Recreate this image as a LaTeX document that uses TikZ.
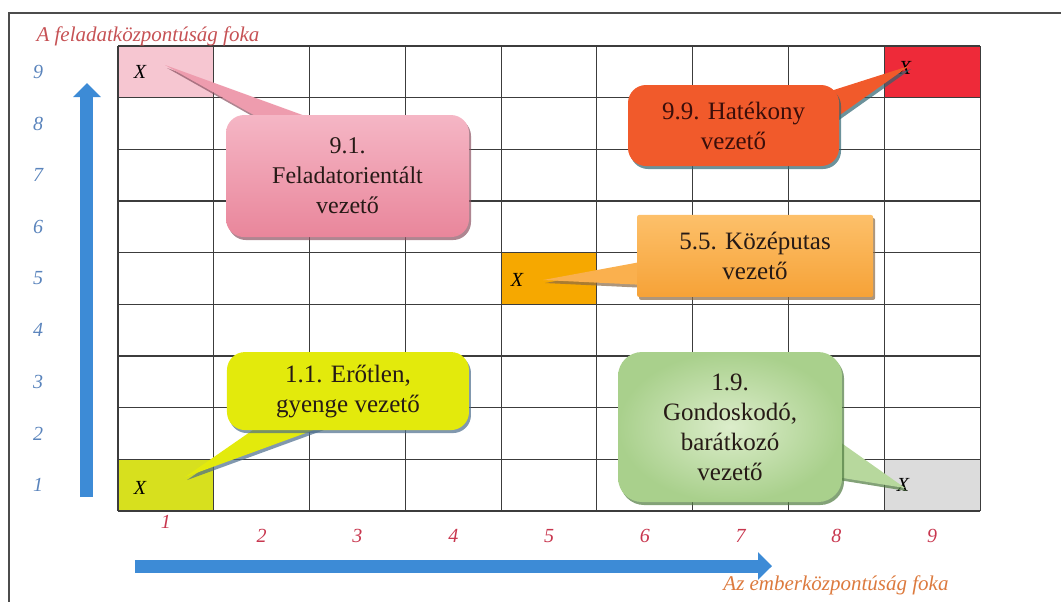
\documentclass[tikz,border=0pt]{standalone}
\usepackage{fontspec}
\setmainfont{Liberation Serif}
\usetikzlibrary{calc,arrows.meta,shadows}
\pgfdeclarelayer{front}
\pgfsetlayers{main,front}

\definecolor{gridgray}{HTML}{3C3C3C}
\definecolor{axisblue}{HTML}{3D8BD6}
\definecolor{numblue}{HTML}{5A84BC}
\definecolor{numred}{HTML}{C8374F}
\definecolor{titlered}{HTML}{C65255}
\definecolor{titleorange}{HTML}{DC7A3E}
\definecolor{cellpink}{HTML}{F6C6D1}
\definecolor{cellred}{HTML}{EE2A39}
\definecolor{cellorange}{HTML}{F6A800}
\definecolor{cellyellow}{HTML}{D7E01E}
\definecolor{cellgray}{HTML}{DCDCDC}
\definecolor{pinktop}{HTML}{F5B6C5}
\definecolor{pinkbot}{HTML}{E9869B}
\definecolor{pinkmid}{HTML}{EE9CAE}
\definecolor{pinkshadow}{HTML}{8C5262}
\definecolor{bubred}{HTML}{F15A2B}
\definecolor{redshadow}{HTML}{2E6470}
\definecolor{orgtop}{HTML}{FDC06A}
\definecolor{orgbot}{HTML}{F6A237}
\definecolor{orgmid}{HTML}{FAB04E}
\definecolor{orgshadow}{HTML}{8A6A45}
\definecolor{bubyellow}{HTML}{E3EA0C}
\definecolor{yelshadow}{HTML}{4B6C8C}
\definecolor{greenin}{HTML}{DCEDCB}
\definecolor{greenout}{HTML}{A9D08C}
\definecolor{greenmid}{HTML}{B7D89D}
\definecolor{greenshadow}{HTML}{4F7A3F}
\definecolor{inkdark}{HTML}{261A16}
\definecolor{inkred}{HTML}{3A0E0A}

\tikzset{
  bubble/.style={rounded corners=18pt,align=center,inner sep=0pt,
    font=\fontsize{25}{30}\selectfont,text=inkdark},
  xsign/.style={font=\fontsize{20}{20}\selectfont\itshape,inner sep=1pt},
  axisnum/.style={font=\fontsize{20}{20}\selectfont\itshape},
  axistitle/.style={font=\fontsize{21}{21}\selectfont\itshape},
  axisarrow/.style={line width=13pt,axisblue,-{Triangle[length=14pt,width=27pt]}},
  bshadow/.style={drop shadow={shadow xshift=2pt,shadow yshift=-3pt,fill=#1,opacity=0.7}}
}

\begin{document}
\begin{tikzpicture}[x=95.78pt,y=51.67pt]
\useasboundingbox (-1.232,-1.742) rectangle (9.845,9.890);
\draw [line width=1.5pt,black!70] (-1.138,-1.8) -- (-1.138,9.638) -- (9.9,9.638);

\fill [cellpink] (0,8) rectangle (1,9);
\fill [cellred] (8,8) rectangle (9,9);
\fill [cellorange] (4,4) rectangle (5,5);
\fill [cellyellow] (0,0) rectangle (1,1);
\fill [cellgray] (8,0) rectangle (9,1);
\draw [gridgray,line width=1.1pt,step=1] (0,0) grid (9,9);

\node (ytitle) [axistitle,anchor=west,text=titlered] at (-0.887,9.193) {A feladatközpontúság foka};
\node (xtitle) [axistitle,text=titleorange] at (7.496,-1.432) {Az emberközpontúság foka};

\foreach \j in {1,...,9}
  \node (y\j) [axisnum,text=numblue] at (-0.835,\j-0.5) {\j};
\node (n1) [axisnum,text=numred] at (0.5,-0.213) {1};
\foreach \i in {2,...,9}
  \node (n\i) [axisnum,text=numred] at (\i-0.5,-0.484) {\i};

\coordinate (vbot) at (-0.324,0.271);
\coordinate (vtop) at (-0.324,8.283);
\draw [axisarrow] (vbot) -- (vtop);
\coordinate (hbeg) at (0.177,-1.064);
\coordinate (hend) at (6.828,-1.064);
\draw [axisarrow] (hbeg) -- (hend);

\node (x91) [xsign] at (0.23,8.496) {X};
\node (x99) [xsign] at (8.217,8.574) {X};
\node (x55) [xsign] at (4.166,4.471) {X};
\node (x11) [xsign] at (0.23,0.445) {X};
\node (x19) [xsign] at (8.196,0.503) {X};

\begin{pgfonlayer}{front}
\node (b91) [bubble,font=\fontsize{24}{30}\selectfont,minimum width=243pt,minimum height=122pt,top color=pinktop,bottom color=pinkbot,bshadow=pinkshadow] at (2.396,6.483) {9.1.\\Feladatorientált\\vezető};
\node (b99) [bubble,minimum width=211pt,minimum height=81pt,fill=bubred,text=inkred,bshadow=redshadow] at (6.426,7.461) {9.9. Hatékony\\vezető};
\node (b55) [bubble,rounded corners=2pt,minimum width=236pt,minimum height=82pt,top color=orgtop,bottom color=orgbot,bshadow=orgshadow] at (6.651,4.936) {5.5. Középutas\\vezető};
\node (b11) [bubble,minimum width=242pt,minimum height=78pt,fill=bubyellow,bshadow=yelshadow] at (2.401,2.322) {1.1. Erőtlen,\\gyenge vezető};
\node (b19) [bubble,rounded corners=24pt,minimum width=224pt,minimum height=150pt,inner color=greenin,outer color=greenout,bshadow=greenshadow] at (6.390,1.626) {1.9.\\Gondoskodó,\\barátkozó\\vezető};
\end{pgfonlayer}

\fill [pinkmid,bshadow=pinkshadow] ($(b91.north west)!0.15!(b91.north east)+(0,-5pt)$) -- ([shift={(25pt,7pt)}]x91.center) -- ($(b91.north west)!0.37!(b91.north east)+(0,-5pt)$) -- cycle;
\fill [bubred,bshadow=redshadow] ($(b99.north east)+(-8pt,-6pt)$) -- ([shift={(4pt,2pt)}]x99.center) -- ($(b99.north east)!0.42!(b99.south east)+(-5pt,0)$) -- cycle;
\fill [orgmid,bshadow=orgshadow] ($(b55.north west)!0.57!(b55.south west)+(5pt,0)$) -- ([xshift=26pt]x55.center) -- ($(b55.north west)!0.85!(b55.south west)+(5pt,0)$) -- cycle;
\fill [bubyellow,bshadow=yelshadow] ($(b11.south west)!0.136!(b11.south east)+(0,5pt)$) -- ([shift={(45pt,11pt)}]x11.center) -- ($(b11.south west)!0.413!(b11.south east)+(0,5pt)$) -- cycle;
\fill [greenmid,bshadow=greenshadow] ($(b19.north east)!0.587!(b19.south east)+(-5pt,0)$) -- ([shift={(2pt,-3pt)}]x19.center) -- ($(b19.north east)!0.833!(b19.south east)+(-5pt,0)$) -- cycle;
\end{tikzpicture}
\end{document}
